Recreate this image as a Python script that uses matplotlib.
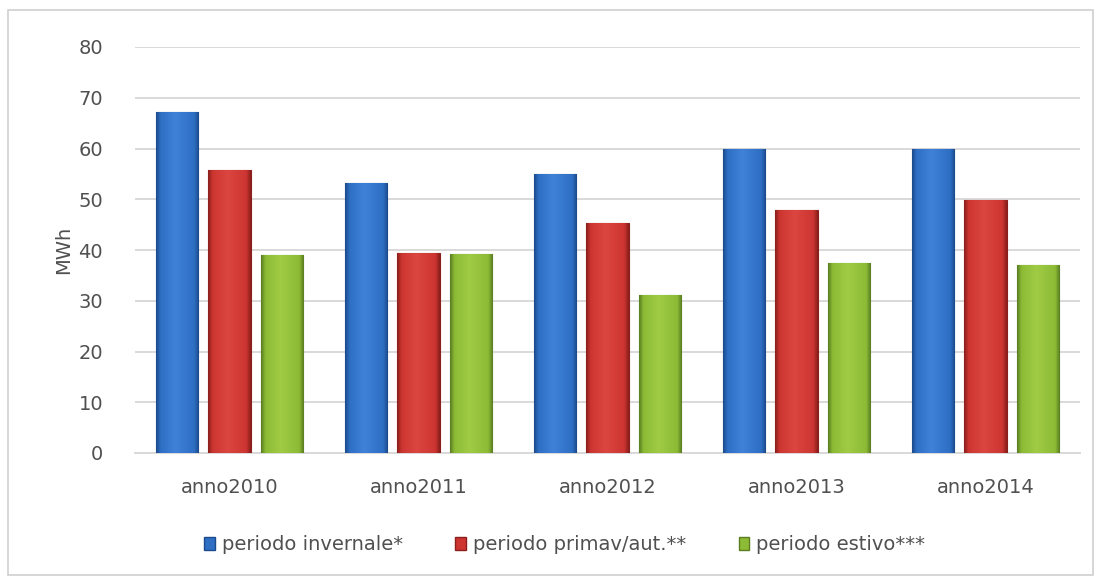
import matplotlib
matplotlib.use("Agg")
import matplotlib.pyplot as plt
import numpy as np
from matplotlib.patches import Rectangle
from matplotlib.colors import LinearSegmentedColormap

categories = ["anno2010", "anno2011", "anno2012", "anno2013", "anno2014"]
series_names = ["periodo invernale*", "periodo primav/aut.**", "periodo estivo***"]
invernale = [67.2, 53.2, 55.0, 59.9, 59.9]
primav_aut = [55.8, 39.4, 45.3, 47.9, 49.9]
estivo = [39.0, 39.2, 31.1, 37.4, 37.0]
yticks = [0, 10, 20, 30, 40, 50, 60, 70, 80]

plt.rcParams['font.family'] = ['DejaVu Sans']
txt = '#505050'

fig = plt.figure(figsize=(11.05, 5.79), dpi=100)
ax = fig.add_axes([135/1105, 1-453/579, (1080-135)/1105, (453-47)/579])

# figure border
fig.patches.append(Rectangle((8/1105, 1-575/579), (1093-8)/1105, (575-10)/579,
                             transform=fig.transFigure, fill=False,
                             edgecolor='#d0d0d0', linewidth=1.2))

base_colors = ['#2e6fc4', '#cc3531', '#8dbb35']
dark = ['#1b4a8c', '#8a1f1c', '#5a7d22']
light = ['#3f82d8', '#dc4640', '#9fcb45']
data = [invernale, primav_aut, estivo]

x = np.arange(len(categories))
w = 0.227
step = 0.278
for i, vals in enumerate(data):
    bars = ax.bar(x + (i - 1) * step, vals, width=w, color=base_colors[i],
                  edgecolor=dark[i], linewidth=0.8, zorder=3,
                  label=series_names[i])
    cmap = LinearSegmentedColormap.from_list(
        'g%d' % i, [(0, dark[i]), (0.1, base_colors[i]), (0.45, light[i]),
                    (0.9, base_colors[i]), (1, dark[i])])
    grad = np.linspace(0, 1, 64).reshape(1, -1)
    for b in bars:
        x0, y0 = b.get_x(), b.get_y()
        im = ax.imshow(grad, extent=[x0, x0 + b.get_width(), y0, y0 + b.get_height()],
                       aspect='auto', cmap=cmap, zorder=3.5, interpolation='bilinear')
        im.set_clip_path(b)

ax.set_xlim(-0.5, len(categories) - 0.5)
ax.set_ylim(0, 80)
ax.set_yticks(yticks)
ax.set_xticks(x)
ax.set_xticklabels(categories)
ax.grid(axis='y', color='#d9d9d9', linewidth=1.4, zorder=0)
ax.set_axisbelow(True)
for s in ['top', 'right', 'left']:
    ax.spines[s].set_visible(False)
ax.spines['bottom'].set_color('#d9d9d9')
ax.spines['bottom'].set_linewidth(1.4)
ax.tick_params(axis='y', length=0, labelsize=14, colors=txt, pad=23)
ax.tick_params(axis='x', length=0, labelsize=14, colors=txt, pad=18)
ax.set_ylabel('MWh', fontsize=14, color=txt, labelpad=4)

handles = [Rectangle((0, 0), 1, 1, facecolor=base_colors[i], edgecolor=dark[i])
           for i in range(3)]
fig.legend(handles, series_names, loc='center', bbox_to_anchor=(0.511, 1-545/579),
           ncol=3, frameon=False, fontsize=14, handlelength=0.55, handleheight=0.6,
           handletextpad=0.35, columnspacing=2.7, labelcolor=txt)

fig.savefig('out.png', dpi=100)
